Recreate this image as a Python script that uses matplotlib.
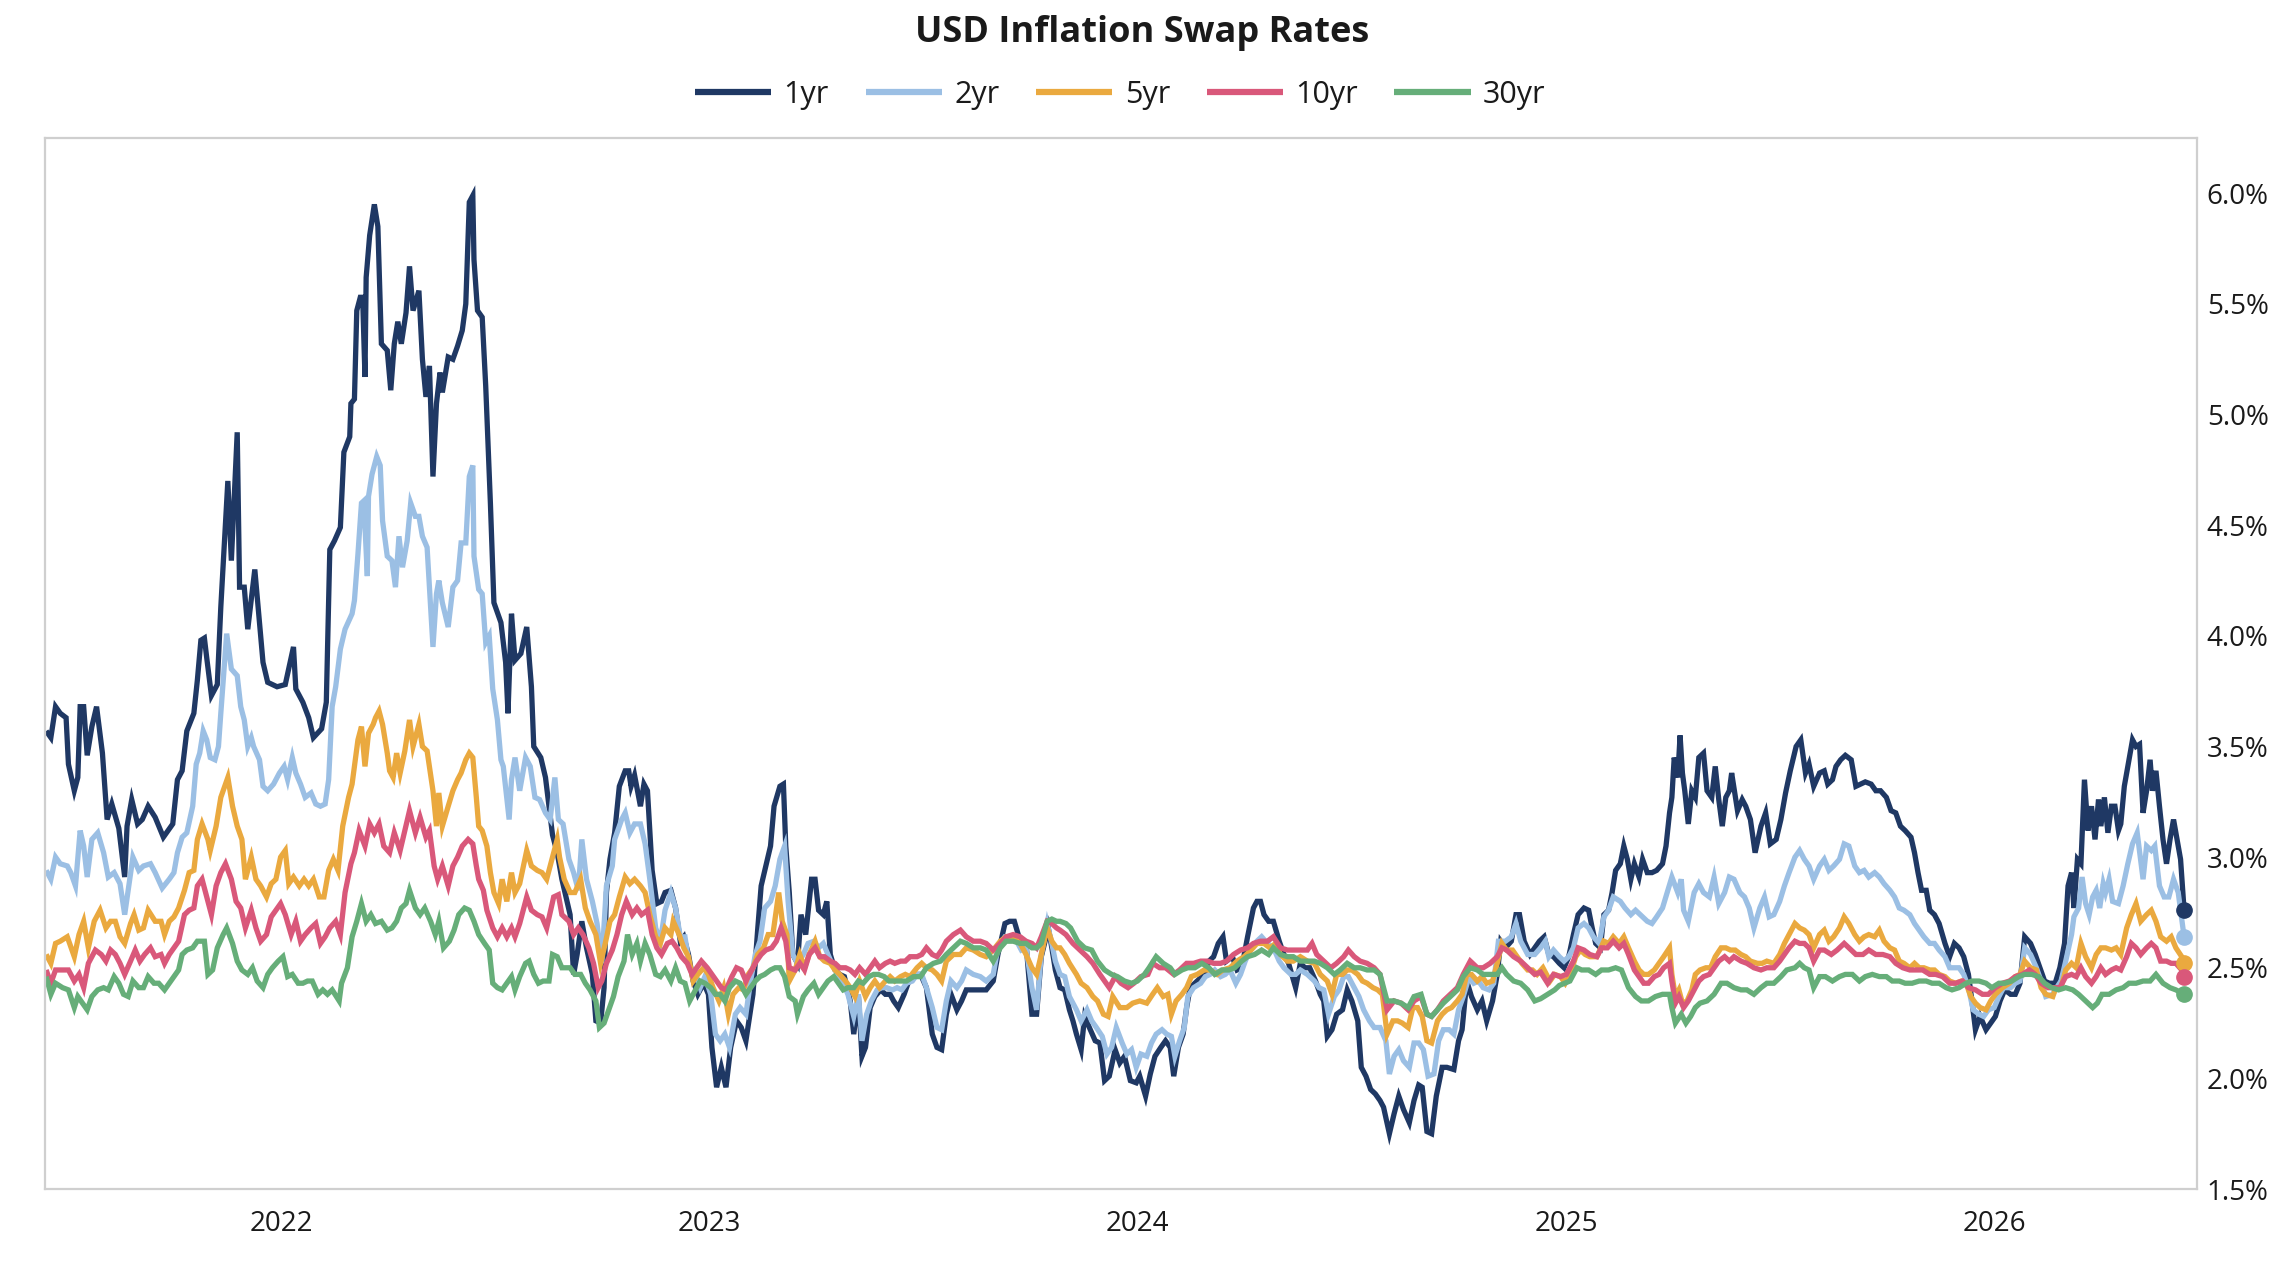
import matplotlib
matplotlib.use("Agg")
import matplotlib.pyplot as plt
import matplotlib.dates as mdates
from matplotlib.ticker import FuncFormatter
import pandas as pd

# ==============================
# DATA (% rates)
# ==============================
swap_1yr = [
    ("2021-06-14", 3.57), ("2021-06-18", 3.54), ("2021-06-22", 3.68), ("2021-06-26", 3.65), ("2021-07-01", 3.63),
    ("2021-07-03", 3.42), ("2021-07-08", 3.30), ("2021-07-11", 3.36), ("2021-07-13", 3.68), ("2021-07-16", 3.68),
    ("2021-07-19", 3.46), ("2021-07-23", 3.59), ("2021-07-27", 3.68), ("2021-08-01", 3.47), ("2021-08-05", 3.17),
    ("2021-08-09", 3.24), ("2021-08-15", 3.13), ("2021-08-20", 2.91), ("2021-08-22", 3.14), ("2021-08-26", 3.26),
    ("2021-08-31", 3.15), ("2021-09-04", 3.17), ("2021-09-09", 3.23), ("2021-09-15", 3.18), ("2021-09-22", 3.09),
    ("2021-09-30", 3.15), ("2021-10-04", 3.35), ("2021-10-08", 3.39), ("2021-10-12", 3.57), ("2021-10-18", 3.65),
    ("2021-10-21", 3.80), ("2021-10-24", 3.98), ("2021-10-27", 3.99), ("2021-10-29", 3.90), ("2021-11-02", 3.73),
    ("2021-11-07", 3.78), ("2021-11-10", 4.13), ("2021-11-16", 4.70), ("2021-11-19", 4.34), ("2021-11-24", 4.92),
    ("2021-11-26", 4.22), ("2021-11-30", 4.22), ("2021-12-03", 4.03), ("2021-12-09", 4.30), ("2021-12-13", 4.06),
    ("2021-12-16", 3.88), ("2021-12-20", 3.79), ("2021-12-28", 3.77), ("2022-01-04", 3.78), ("2022-01-11", 3.95),
    ("2022-01-13", 3.76), ("2022-01-19", 3.70), ("2022-01-24", 3.63), ("2022-01-28", 3.54), ("2022-02-04", 3.58),
    ("2022-02-08", 3.70), ("2022-02-11", 4.39), ("2022-02-15", 4.43), ("2022-02-20", 4.49), ("2022-02-23", 4.83),
    ("2022-02-28", 4.90), ("2022-03-01", 5.05), ("2022-03-04", 5.07), ("2022-03-06", 5.47), ("2022-03-09", 5.53),
    ("2022-03-11", 5.53), ("2022-03-13", 5.17), ("2022-03-14", 5.62), ("2022-03-17", 5.81), ("2022-03-21", 5.95),
    ("2022-03-24", 5.85), ("2022-03-27", 5.32), ("2022-04-01", 5.29), ("2022-04-04", 5.11), ("2022-04-07", 5.32),
    ("2022-04-10", 5.42), ("2022-04-13", 5.32), ("2022-04-17", 5.46), ("2022-04-20", 5.67), ("2022-04-23", 5.47),
    ("2022-04-28", 5.56), ("2022-05-01", 5.25), ("2022-05-04", 5.08), ("2022-05-07", 5.22), ("2022-05-10", 4.72),
    ("2022-05-13", 5.05), ("2022-05-16", 5.19), ("2022-05-18", 5.10), ("2022-05-23", 5.26), ("2022-05-27", 5.25),
    ("2022-05-31", 5.31), ("2022-06-04", 5.38), ("2022-06-07", 5.50), ("2022-06-10", 5.96), ("2022-06-13", 5.99),
    ("2022-06-14", 5.70), ("2022-06-17", 5.47), ("2022-06-21", 5.44), ("2022-06-24", 5.13), ("2022-06-28", 4.60),
    ("2022-07-01", 4.15), ("2022-07-07", 4.06), ("2022-07-11", 3.88), ("2022-07-13", 3.65), ("2022-07-16", 4.10),
    ("2022-07-19", 3.89), ("2022-07-24", 3.92), ("2022-07-29", 4.04), ("2022-08-02", 3.77), ("2022-08-04", 3.50),
    ("2022-08-10", 3.45), ("2022-08-14", 3.36), ("2022-08-17", 3.23), ("2022-08-20", 3.10), ("2022-08-24", 3.02),
    ("2022-08-28", 2.90), ("2022-09-04", 2.74), ("2022-09-07", 2.47), ("2022-09-10", 2.56), ("2022-09-14", 2.71),
    ("2022-09-18", 2.59), ("2022-09-23", 2.47), ("2022-09-26", 2.26), ("2022-09-30", 2.25), ("2022-10-03", 2.41),
    ("2022-10-05", 2.84), ("2022-10-08", 2.99), ("2022-10-12", 3.11), ("2022-10-16", 3.32), ("2022-10-21", 3.39),
    ("2022-10-24", 3.39), ("2022-10-26", 3.32), ("2022-10-29", 3.37), ("2022-11-03", 3.23), ("2022-11-06", 3.33),
    ("2022-11-09", 3.30), ("2022-11-13", 2.94), ("2022-11-17", 2.79), ("2022-11-21", 2.80), ("2022-11-24", 2.84),
    ("2022-11-29", 2.85), ("2022-12-03", 2.77), ("2022-12-07", 2.62), ("2022-12-10", 2.64), ("2022-12-14", 2.56),
    ("2022-12-18", 2.44), ("2022-12-22", 2.38), ("2022-12-27", 2.43), ("2022-12-31", 2.38), ("2023-01-03", 2.14),
    ("2023-01-07", 1.96), ("2023-01-11", 2.05), ("2023-01-15", 1.96), ("2023-01-19", 2.14), ("2023-01-24", 2.26),
    ("2023-01-28", 2.23), ("2023-02-01", 2.17), ("2023-02-07", 2.38), ("2023-02-11", 2.67), ("2023-02-14", 2.87),
    ("2023-02-18", 2.96), ("2023-02-22", 3.05), ("2023-02-25", 3.23), ("2023-03-02", 3.32), ("2023-03-05", 3.33),
    ("2023-03-07", 3.05), ("2023-03-10", 2.84), ("2023-03-13", 2.56), ("2023-03-17", 2.52), ("2023-03-20", 2.74),
    ("2023-03-24", 2.65), ("2023-03-29", 2.90), ("2023-04-01", 2.90), ("2023-04-04", 2.76), ("2023-04-08", 2.74),
    ("2023-04-11", 2.80), ("2023-04-14", 2.56), ("2023-04-18", 2.49), ("2023-04-22", 2.47), ("2023-04-26", 2.46),
    ("2023-05-01", 2.35), ("2023-05-04", 2.20), ("2023-05-08", 2.37), ("2023-05-11", 2.10), ("2023-05-14", 2.14),
    ("2023-05-18", 2.32), ("2023-05-22", 2.37), ("2023-05-27", 2.40), ("2023-05-31", 2.38), ("2023-06-04", 2.38),
    ("2023-06-07", 2.35), ("2023-06-11", 2.32), ("2023-06-16", 2.38), ("2023-06-20", 2.44), ("2023-06-24", 2.47),
    ("2023-06-30", 2.47), ("2023-07-05", 2.41), ("2023-07-10", 2.20), ("2023-07-14", 2.14), ("2023-07-18", 2.13),
    ("2023-07-22", 2.29), ("2023-07-26", 2.38), ("2023-07-31", 2.31), ("2023-08-04", 2.35), ("2023-08-08", 2.40),
    ("2023-08-14", 2.40), ("2023-08-20", 2.40), ("2023-08-25", 2.40), ("2023-08-31", 2.44), ("2023-09-04", 2.56),
    ("2023-09-10", 2.70), ("2023-09-14", 2.71), ("2023-09-18", 2.71), ("2023-09-23", 2.62), ("2023-09-28", 2.61),
    ("2023-10-03", 2.29), ("2023-10-07", 2.29), ("2023-10-11", 2.55), ("2023-10-17", 2.68), ("2023-10-20", 2.59),
    ("2023-10-23", 2.49), ("2023-10-27", 2.41), ("2023-10-31", 2.40), ("2023-11-04", 2.31), ("2023-11-07", 2.26),
    ("2023-11-10", 2.20), ("2023-11-14", 2.13), ("2023-11-17", 2.28), ("2023-11-21", 2.23), ("2023-11-26", 2.17),
    ("2023-11-30", 2.16), ("2023-12-04", 1.99), ("2023-12-08", 2.01), ("2023-12-13", 2.13), ("2023-12-17", 2.07),
    ("2023-12-21", 2.10), ("2023-12-26", 1.99), ("2023-12-31", 1.98), ("2024-01-03", 2.01), ("2024-01-08", 1.92),
    ("2024-01-12", 2.02), ("2024-01-16", 2.10), ("2024-01-21", 2.14), ("2024-01-25", 2.17), ("2024-01-29", 2.14),
    ("2024-02-01", 2.01), ("2024-02-05", 2.14), ("2024-02-09", 2.20), ("2024-02-12", 2.32), ("2024-02-15", 2.41),
    ("2024-02-21", 2.44), ("2024-02-27", 2.47), ("2024-03-02", 2.53), ("2024-03-06", 2.55), ("2024-03-10", 2.61),
    ("2024-03-14", 2.64), ("2024-03-17", 2.53), ("2024-03-22", 2.55), ("2024-03-26", 2.49), ("2024-03-30", 2.50),
    ("2024-04-04", 2.64), ("2024-04-09", 2.77), ("2024-04-12", 2.80), ("2024-04-15", 2.80), ("2024-04-18", 2.74),
    ("2024-04-22", 2.71), ("2024-04-26", 2.71), ("2024-05-01", 2.62), ("2024-05-05", 2.56), ("2024-05-09", 2.52),
    ("2024-05-15", 2.41), ("2024-05-19", 2.52), ("2024-05-23", 2.50), ("2024-05-27", 2.50), ("2024-06-01", 2.44),
    ("2024-06-05", 2.38), ("2024-06-08", 2.35), ("2024-06-11", 2.19), ("2024-06-15", 2.22), ("2024-06-19", 2.29),
    ("2024-06-24", 2.31), ("2024-06-28", 2.40), ("2024-07-02", 2.35), ("2024-07-07", 2.26), ("2024-07-10", 2.05),
    ("2024-07-14", 2.01), ("2024-07-18", 1.95), ("2024-07-22", 1.93), ("2024-07-26", 1.90), ("2024-07-29", 1.87),
    ("2024-08-03", 1.75), ("2024-08-07", 1.84), ("2024-08-11", 1.92), ("2024-08-15", 1.86), ("2024-08-20", 1.80),
    ("2024-08-24", 1.90), ("2024-08-28", 1.97), ("2024-08-31", 1.96), ("2024-09-04", 1.76), ("2024-09-08", 1.75),
    ("2024-09-12", 1.92), ("2024-09-17", 2.05), ("2024-09-21", 2.05), ("2024-09-27", 2.04), ("2024-10-01", 2.17),
    ("2024-10-04", 2.22), ("2024-10-08", 2.44), ("2024-10-12", 2.37), ("2024-10-17", 2.31), ("2024-10-21", 2.35),
    ("2024-10-25", 2.26), ("2024-10-30", 2.35), ("2024-11-03", 2.47), ("2024-11-06", 2.62), ("2024-11-10", 2.59),
    ("2024-11-15", 2.62), ("2024-11-19", 2.74), ("2024-11-22", 2.74), ("2024-11-26", 2.62), ("2024-12-01", 2.56),
    ("2024-12-05", 2.59), ("2024-12-09", 2.62), ("2024-12-13", 2.64), ("2024-12-17", 2.56), ("2024-12-21", 2.55),
    ("2024-12-26", 2.52), ("2024-12-30", 2.50), ("2025-01-03", 2.55), ("2025-01-07", 2.65), ("2025-01-11", 2.74),
    ("2025-01-16", 2.77), ("2025-01-20", 2.76), ("2025-01-23", 2.68), ("2025-01-26", 2.61), ("2025-01-30", 2.59),
    ("2025-02-02", 2.74), ("2025-02-06", 2.76), ("2025-02-09", 2.84), ("2025-02-12", 2.94), ("2025-02-16", 2.97),
    ("2025-02-19", 3.05), ("2025-02-22", 2.99), ("2025-02-25", 2.90), ("2025-02-28", 2.97), ("2025-03-04", 2.91),
    ("2025-03-07", 2.99), ("2025-03-11", 2.93), ("2025-03-15", 2.93), ("2025-03-19", 2.94), ("2025-03-24", 2.97),
    ("2025-03-27", 3.05), ("2025-03-30", 3.20), ("2025-04-01", 3.27), ("2025-04-03", 3.45), ("2025-04-06", 3.36),
    ("2025-04-08", 3.55), ("2025-04-10", 3.38), ("2025-04-12", 3.30), ("2025-04-15", 3.15), ("2025-04-18", 3.30),
    ("2025-04-21", 3.27), ("2025-04-24", 3.45), ("2025-04-28", 3.47), ("2025-05-01", 3.30), ("2025-05-05", 3.27),
    ("2025-05-08", 3.41), ("2025-05-11", 3.26), ("2025-05-14", 3.14), ("2025-05-17", 3.27), ("2025-05-20", 3.30),
    ("2025-05-22", 3.38), ("2025-05-27", 3.21), ("2025-05-31", 3.26), ("2025-06-03", 3.23), ("2025-06-07", 3.17),
    ("2025-06-11", 3.02), ("2025-06-16", 3.14), ("2025-06-20", 3.20), ("2025-06-24", 3.06), ("2025-06-29", 3.08),
    ("2025-07-03", 3.17), ("2025-07-07", 3.29), ("2025-07-11", 3.39), ("2025-07-16", 3.50), ("2025-07-20", 3.53),
    ("2025-07-24", 3.38), ("2025-07-27", 3.42), ("2025-07-31", 3.32), ("2025-08-05", 3.38), ("2025-08-09", 3.39),
    ("2025-08-12", 3.33), ("2025-08-16", 3.35), ("2025-08-19", 3.41), ("2025-08-23", 3.44), ("2025-08-27", 3.46),
    ("2025-09-01", 3.44), ("2025-09-05", 3.32), ("2025-09-09", 3.33), ("2025-09-13", 3.34), ("2025-09-18", 3.33),
    ("2025-09-22", 3.30), ("2025-09-26", 3.30), ("2025-10-01", 3.27), ("2025-10-05", 3.21), ("2025-10-09", 3.20),
    ("2025-10-13", 3.14), ("2025-10-17", 3.12), ("2025-10-22", 3.09), ("2025-10-25", 3.02), ("2025-10-28", 2.93),
    ("2025-10-31", 2.85), ("2025-11-04", 2.85), ("2025-11-07", 2.76), ("2025-11-11", 2.74), ("2025-11-15", 2.70),
    ("2025-11-20", 2.61), ("2025-11-24", 2.55), ("2025-11-28", 2.61), ("2025-12-02", 2.59), ("2025-12-06", 2.55),
    ("2025-12-10", 2.47), ("2025-12-13", 2.35), ("2025-12-16", 2.22), ("2025-12-20", 2.28), ("2025-12-25", 2.22),
    ("2025-12-29", 2.25), ("2026-01-02", 2.28), ("2026-01-06", 2.35), ("2026-01-10", 2.40), ("2026-01-15", 2.38),
    ("2026-01-19", 2.38), ("2026-01-23", 2.43), ("2026-01-27", 2.64), ("2026-02-01", 2.61), ("2026-02-05", 2.56),
    ("2026-02-09", 2.50), ("2026-02-13", 2.44), ("2026-02-17", 2.43), ("2026-02-22", 2.43), ("2026-02-26", 2.50),
    ("2026-03-02", 2.61), ("2026-03-05", 2.87), ("2026-03-08", 2.93), ("2026-03-10", 2.77), ("2026-03-13", 2.99),
    ("2026-03-16", 2.97), ("2026-03-19", 3.35), ("2026-03-22", 3.12), ("2026-03-25", 3.23), ("2026-03-28", 3.08),
    ("2026-03-31", 3.26), ("2026-04-02", 3.14), ("2026-04-05", 3.27), ("2026-04-08", 3.11), ("2026-04-11", 3.23),
    ("2026-04-14", 3.23), ("2026-04-17", 3.12), ("2026-04-19", 3.15), ("2026-04-22", 3.32), ("2026-04-27", 3.47),
    ("2026-04-29", 3.53), ("2026-05-02", 3.50), ("2026-05-05", 3.51), ("2026-05-08", 3.20), ("2026-05-11", 3.30),
    ("2026-05-14", 3.44), ("2026-05-16", 3.30), ("2026-05-19", 3.39), ("2026-05-22", 3.23), ("2026-05-25", 3.08),
    ("2026-05-28", 2.97), ("2026-05-31", 3.08), ("2026-06-03", 3.17), ("2026-06-06", 3.08), ("2026-06-09", 2.99),
    ("2026-06-12", 2.76),
]

swap_2yr = [
    ("2021-06-14", 2.94), ("2021-06-18", 2.90), ("2021-06-22", 3.00), ("2021-06-26", 2.97), ("2021-07-02", 2.96),
    ("2021-07-05", 2.93), ("2021-07-09", 2.87), ("2021-07-13", 3.12), ("2021-07-16", 3.05), ("2021-07-19", 2.91),
    ("2021-07-23", 3.08), ("2021-07-28", 3.11), ("2021-08-02", 3.02), ("2021-08-06", 2.91), ("2021-08-11", 2.93),
    ("2021-08-16", 2.88), ("2021-08-20", 2.74), ("2021-08-23", 2.85), ("2021-08-27", 3.00), ("2021-09-01", 2.94),
    ("2021-09-05", 2.96), ("2021-09-11", 2.97), ("2021-09-15", 2.93), ("2021-09-21", 2.86), ("2021-09-27", 2.90),
    ("2021-10-01", 2.93), ("2021-10-04", 3.02), ("2021-10-08", 3.09), ("2021-10-12", 3.11), ("2021-10-17", 3.23),
    ("2021-10-20", 3.42), ("2021-10-23", 3.47), ("2021-10-26", 3.57), ("2021-10-29", 3.53), ("2021-11-01", 3.45),
    ("2021-11-05", 3.44), ("2021-11-08", 3.50), ("2021-11-10", 3.65), ("2021-11-15", 4.01), ("2021-11-19", 3.85),
    ("2021-11-24", 3.82), ("2021-11-27", 3.68), ("2021-11-30", 3.62), ("2021-12-03", 3.50), ("2021-12-06", 3.54),
    ("2021-12-08", 3.50), ("2021-12-13", 3.44), ("2021-12-16", 3.32), ("2021-12-20", 3.30), ("2021-12-25", 3.33),
    ("2021-12-30", 3.38), ("2022-01-03", 3.41), ("2022-01-06", 3.35), ("2022-01-10", 3.45), ("2022-01-13", 3.38),
    ("2022-01-17", 3.33), ("2022-01-21", 3.27), ("2022-01-26", 3.29), ("2022-01-30", 3.24), ("2022-02-03", 3.23),
    ("2022-02-07", 3.24), ("2022-02-10", 3.35), ("2022-02-13", 3.68), ("2022-02-16", 3.77), ("2022-02-20", 3.94),
    ("2022-02-24", 4.03), ("2022-03-02", 4.10), ("2022-03-04", 4.16), ("2022-03-07", 4.37), ("2022-03-10", 4.60),
    ("2022-03-12", 4.61), ("2022-03-15", 4.27), ("2022-03-16", 4.63), ("2022-03-19", 4.73), ("2022-03-23", 4.81),
    ("2022-03-26", 4.77), ("2022-03-28", 4.52), ("2022-04-01", 4.36), ("2022-04-05", 4.34), ("2022-04-08", 4.22),
    ("2022-04-11", 4.45), ("2022-04-14", 4.31), ("2022-04-18", 4.43), ("2022-04-21", 4.60), ("2022-04-25", 4.54),
    ("2022-04-28", 4.54), ("2022-05-01", 4.45), ("2022-05-05", 4.40), ("2022-05-10", 3.95), ("2022-05-13", 4.19),
    ("2022-05-15", 4.25), ("2022-05-18", 4.15), ("2022-05-23", 4.04), ("2022-05-27", 4.22), ("2022-05-31", 4.25),
    ("2022-06-03", 4.42), ("2022-06-07", 4.42), ("2022-06-10", 4.72), ("2022-06-13", 4.77), ("2022-06-14", 4.36),
    ("2022-06-18", 4.21), ("2022-06-21", 4.19), ("2022-06-24", 3.97), ("2022-06-27", 4.00), ("2022-06-30", 3.76),
    ("2022-07-04", 3.62), ("2022-07-07", 3.44), ("2022-07-09", 3.41), ("2022-07-14", 3.17), ("2022-07-16", 3.35),
    ("2022-07-19", 3.45), ("2022-07-23", 3.30), ("2022-07-28", 3.45), ("2022-08-01", 3.41), ("2022-08-05", 3.27),
    ("2022-08-09", 3.26), ("2022-08-14", 3.20), ("2022-08-18", 3.17), ("2022-08-22", 3.36), ("2022-08-25", 3.17),
    ("2022-08-29", 3.15), ("2022-09-03", 2.99), ("2022-09-07", 2.93), ("2022-09-11", 2.85), ("2022-09-14", 3.08),
    ("2022-09-18", 2.90), ("2022-09-23", 2.80), ("2022-09-27", 2.70), ("2022-10-01", 2.52), ("2022-10-05", 2.87),
    ("2022-10-10", 2.96), ("2022-10-12", 3.08), ("2022-10-18", 3.17), ("2022-10-21", 3.20), ("2022-10-25", 3.11),
    ("2022-10-29", 3.15), ("2022-11-03", 3.15), ("2022-11-07", 3.06), ("2022-11-11", 2.90), ("2022-11-16", 2.68),
    ("2022-11-20", 2.62), ("2022-11-24", 2.76), ("2022-11-29", 2.84), ("2022-12-03", 2.77), ("2022-12-07", 2.64),
    ("2022-12-11", 2.64), ("2022-12-15", 2.50), ("2022-12-20", 2.47), ("2022-12-24", 2.41), ("2022-12-28", 2.46),
    ("2023-01-02", 2.38), ("2023-01-06", 2.20), ("2023-01-10", 2.17), ("2023-01-14", 2.20), ("2023-01-18", 2.14),
    ("2023-01-23", 2.29), ("2023-01-27", 2.32), ("2023-02-01", 2.29), ("2023-02-05", 2.44), ("2023-02-09", 2.56),
    ("2023-02-13", 2.62), ("2023-02-17", 2.77), ("2023-02-22", 2.80), ("2023-02-26", 2.87), ("2023-03-02", 2.99),
    ("2023-03-06", 3.05), ("2023-03-09", 2.80), ("2023-03-13", 2.56), ("2023-03-17", 2.52), ("2023-03-22", 2.56),
    ("2023-03-26", 2.61), ("2023-03-31", 2.62), ("2023-04-04", 2.59), ("2023-04-08", 2.61), ("2023-04-12", 2.56),
    ("2023-04-17", 2.50), ("2023-04-21", 2.47), ("2023-04-25", 2.43), ("2023-04-29", 2.38), ("2023-05-04", 2.28),
    ("2023-05-08", 2.38), ("2023-05-11", 2.17), ("2023-05-15", 2.29), ("2023-05-19", 2.35), ("2023-05-24", 2.40),
    ("2023-05-28", 2.41), ("2023-06-01", 2.41), ("2023-06-06", 2.40), ("2023-06-10", 2.41), ("2023-06-14", 2.40),
    ("2023-06-18", 2.43), ("2023-06-23", 2.44), ("2023-06-27", 2.47), ("2023-07-01", 2.47), ("2023-07-05", 2.41),
    ("2023-07-10", 2.32), ("2023-07-14", 2.23), ("2023-07-18", 2.22), ("2023-07-22", 2.35), ("2023-07-26", 2.44),
    ("2023-07-31", 2.41), ("2023-08-04", 2.44), ("2023-08-08", 2.49), ("2023-08-14", 2.47), ("2023-08-20", 2.46),
    ("2023-08-25", 2.44), ("2023-08-31", 2.47), ("2023-09-04", 2.59), ("2023-09-10", 2.64), ("2023-09-16", 2.64),
    ("2023-09-20", 2.62), ("2023-09-24", 2.58), ("2023-09-28", 2.59), ("2023-10-03", 2.41), ("2023-10-07", 2.31),
    ("2023-10-11", 2.56), ("2023-10-16", 2.70), ("2023-10-20", 2.61), ("2023-10-23", 2.53), ("2023-10-27", 2.47),
    ("2023-10-31", 2.46), ("2023-11-04", 2.37), ("2023-11-10", 2.31), ("2023-11-14", 2.26), ("2023-11-19", 2.31),
    ("2023-11-23", 2.26), ("2023-11-27", 2.23), ("2023-12-02", 2.19), ("2023-12-06", 2.11), ("2023-12-10", 2.14),
    ("2023-12-14", 2.23), ("2023-12-19", 2.16), ("2023-12-23", 2.11), ("2023-12-27", 2.13), ("2023-12-31", 2.05),
    ("2024-01-04", 2.11), ("2024-01-09", 2.10), ("2024-01-13", 2.16), ("2024-01-17", 2.20), ("2024-01-22", 2.22),
    ("2024-01-26", 2.20), ("2024-01-30", 2.19), ("2024-02-02", 2.10), ("2024-02-06", 2.17), ("2024-02-10", 2.23),
    ("2024-02-13", 2.37), ("2024-02-18", 2.41), ("2024-02-24", 2.43), ("2024-02-28", 2.46), ("2024-03-03", 2.47),
    ("2024-03-07", 2.49), ("2024-03-12", 2.46), ("2024-03-16", 2.47), ("2024-03-20", 2.49), ("2024-03-25", 2.43),
    ("2024-03-29", 2.47), ("2024-04-02", 2.53), ("2024-04-07", 2.59), ("2024-04-12", 2.62), ("2024-04-16", 2.64),
    ("2024-04-21", 2.61), ("2024-04-26", 2.59), ("2024-05-01", 2.53), ("2024-05-05", 2.50), ("2024-05-11", 2.47),
    ("2024-05-15", 2.47), ("2024-05-19", 2.49), ("2024-05-25", 2.47), ("2024-05-31", 2.44), ("2024-06-04", 2.41),
    ("2024-06-08", 2.40), ("2024-06-12", 2.29), ("2024-06-17", 2.37), ("2024-06-21", 2.40), ("2024-06-25", 2.46),
    ("2024-06-29", 2.46), ("2024-07-04", 2.41), ("2024-07-08", 2.37), ("2024-07-12", 2.31), ("2024-07-17", 2.26),
    ("2024-07-21", 2.23), ("2024-07-26", 2.23), ("2024-07-31", 2.17), ("2024-08-03", 2.02), ("2024-08-07", 2.10),
    ("2024-08-11", 2.13), ("2024-08-15", 2.08), ("2024-08-20", 2.05), ("2024-08-24", 2.16), ("2024-08-28", 2.16),
    ("2024-09-01", 2.13), ("2024-09-05", 2.01), ("2024-09-10", 2.02), ("2024-09-14", 2.17), ("2024-09-18", 2.22),
    ("2024-09-23", 2.22), ("2024-09-27", 2.20), ("2024-10-01", 2.31), ("2024-10-05", 2.37), ("2024-10-10", 2.46),
    ("2024-10-14", 2.43), ("2024-10-18", 2.44), ("2024-10-22", 2.41), ("2024-10-27", 2.40), ("2024-10-31", 2.43),
    ("2024-11-04", 2.62), ("2024-11-10", 2.62), ("2024-11-15", 2.64), ("2024-11-19", 2.70), ("2024-11-23", 2.62),
    ("2024-11-29", 2.56), ("2024-12-05", 2.56), ("2024-12-10", 2.59), ("2024-12-14", 2.62), ("2024-12-17", 2.55),
    ("2024-12-21", 2.58), ("2024-12-26", 2.55), ("2024-12-30", 2.53), ("2025-01-03", 2.55), ("2025-01-07", 2.59),
    ("2025-01-11", 2.68), ("2025-01-16", 2.70), ("2025-01-20", 2.68), ("2025-01-24", 2.64), ("2025-01-29", 2.61),
    ("2025-02-02", 2.73), ("2025-02-06", 2.76), ("2025-02-10", 2.82), ("2025-02-16", 2.80), ("2025-02-20", 2.77),
    ("2025-02-25", 2.74), ("2025-03-01", 2.76), ("2025-03-05", 2.74), ("2025-03-11", 2.71), ("2025-03-15", 2.70),
    ("2025-03-19", 2.73), ("2025-03-24", 2.77), ("2025-03-28", 2.84), ("2025-04-01", 2.91), ("2025-04-06", 2.84),
    ("2025-04-09", 2.90), ("2025-04-11", 2.76), ("2025-04-15", 2.71), ("2025-04-20", 2.84), ("2025-04-24", 2.88),
    ("2025-04-28", 2.84), ("2025-05-03", 2.82), ("2025-05-07", 2.91), ("2025-05-11", 2.79), ("2025-05-16", 2.84),
    ("2025-05-20", 2.91), ("2025-05-24", 2.90), ("2025-05-29", 2.84), ("2025-06-02", 2.82), ("2025-06-06", 2.77),
    ("2025-06-10", 2.68), ("2025-06-15", 2.77), ("2025-06-19", 2.82), ("2025-06-23", 2.73), ("2025-06-27", 2.74),
    ("2025-07-02", 2.80), ("2025-07-06", 2.87), ("2025-07-10", 2.93), ("2025-07-15", 3.00), ("2025-07-19", 3.03),
    ("2025-07-23", 2.99), ("2025-07-27", 2.96), ("2025-07-31", 2.90), ("2025-08-05", 2.96), ("2025-08-09", 2.99),
    ("2025-08-13", 2.94), ("2025-08-17", 2.96), ("2025-08-22", 2.99), ("2025-08-26", 3.06), ("2025-08-30", 3.05),
    ("2025-09-04", 2.96), ("2025-09-08", 2.93), ("2025-09-12", 2.94), ("2025-09-16", 2.91), ("2025-09-21", 2.93),
    ("2025-09-25", 2.91), ("2025-09-29", 2.88), ("2025-10-04", 2.85), ("2025-10-08", 2.82), ("2025-10-12", 2.77),
    ("2025-10-16", 2.76), ("2025-10-21", 2.74), ("2025-10-25", 2.70), ("2025-10-29", 2.67), ("2025-11-02", 2.64),
    ("2025-11-07", 2.61), ("2025-11-11", 2.61), ("2025-11-15", 2.58), ("2025-11-20", 2.55), ("2025-11-24", 2.50),
    ("2025-11-28", 2.50), ("2025-12-02", 2.50), ("2025-12-06", 2.47), ("2025-12-10", 2.41), ("2025-12-14", 2.31),
    ("2025-12-19", 2.29), ("2025-12-23", 2.28), ("2025-12-27", 2.31), ("2026-01-01", 2.32), ("2026-01-05", 2.37),
    ("2026-01-09", 2.41), ("2026-01-15", 2.41), ("2026-01-19", 2.43), ("2026-01-23", 2.44), ("2026-01-27", 2.59),
    ("2026-02-01", 2.56), ("2026-02-06", 2.50), ("2026-02-10", 2.44), ("2026-02-14", 2.37), ("2026-02-20", 2.38),
    ("2026-02-22", 2.40), ("2026-02-27", 2.44), ("2026-03-03", 2.53), ("2026-03-08", 2.65), ("2026-03-10", 2.73),
    ("2026-03-14", 2.77), ("2026-03-17", 2.91), ("2026-03-20", 2.79), ("2026-03-23", 2.74), ("2026-03-26", 2.82),
    ("2026-03-29", 2.85), ("2026-04-01", 2.77), ("2026-04-04", 2.88), ("2026-04-06", 2.84), ("2026-04-09", 2.90),
    ("2026-04-12", 2.80), ("2026-04-17", 2.79), ("2026-04-21", 2.87), ("2026-04-25", 2.97), ("2026-04-29", 3.06),
    ("2026-05-03", 3.11), ("2026-05-08", 2.90), ("2026-05-11", 3.05), ("2026-05-15", 3.03), ("2026-05-18", 3.05),
    ("2026-05-22", 2.87), ("2026-05-26", 2.82), ("2026-05-30", 2.82), ("2026-06-03", 2.90), ("2026-06-07", 2.84),
    ("2026-06-12", 2.64),
]

swap_5yr = [
    ("2021-06-14", 2.56), ("2021-06-18", 2.52), ("2021-06-22", 2.61), ("2021-06-26", 2.62), ("2021-07-02", 2.64),
    ("2021-07-08", 2.55), ("2021-07-12", 2.65), ("2021-07-16", 2.71), ("2021-07-20", 2.59), ("2021-07-25", 2.71),
    ("2021-07-30", 2.76), ("2021-08-04", 2.68), ("2021-08-08", 2.71), ("2021-08-12", 2.71), ("2021-08-16", 2.64),
    ("2021-08-20", 2.61), ("2021-08-25", 2.70), ("2021-08-28", 2.74), ("2021-09-01", 2.67), ("2021-09-05", 2.68),
    ("2021-09-09", 2.76), ("2021-09-15", 2.71), ("2021-09-20", 2.71), ("2021-09-23", 2.65), ("2021-09-27", 2.71),
    ("2021-10-01", 2.73), ("2021-10-05", 2.77), ("2021-10-10", 2.85), ("2021-10-14", 2.93), ("2021-10-18", 2.94),
    ("2021-10-21", 3.08), ("2021-10-25", 3.15), ("2021-10-30", 3.08), ("2021-11-01", 3.03), ("2021-11-06", 3.14),
    ("2021-11-10", 3.27), ("2021-11-14", 3.33), ("2021-11-16", 3.36), ("2021-11-20", 3.23), ("2021-11-24", 3.14),
    ("2021-11-28", 3.08), ("2021-12-01", 2.90), ("2021-12-06", 3.00), ("2021-12-10", 2.90), ("2021-12-14", 2.87),
    ("2021-12-19", 2.82), ("2021-12-23", 2.88), ("2021-12-27", 2.90), ("2021-12-31", 3.00), ("2022-01-04", 3.03),
    ("2022-01-07", 2.88), ("2022-01-11", 2.91), ("2022-01-16", 2.87), ("2022-01-20", 2.90), ("2022-01-24", 2.87),
    ("2022-01-28", 2.90), ("2022-02-02", 2.82), ("2022-02-06", 2.82), ("2022-02-10", 2.94), ("2022-02-14", 2.99),
    ("2022-02-18", 2.94), ("2022-02-22", 3.14), ("2022-02-27", 3.27), ("2022-03-02", 3.33), ("2022-03-04", 3.41),
    ("2022-03-07", 3.53), ("2022-03-10", 3.59), ("2022-03-13", 3.41), ("2022-03-16", 3.56), ("2022-03-20", 3.60),
    ("2022-03-22", 3.63), ("2022-03-25", 3.66), ("2022-03-28", 3.60), ("2022-04-01", 3.47), ("2022-04-03", 3.39),
    ("2022-04-06", 3.36), ("2022-04-09", 3.47), ("2022-04-12", 3.38), ("2022-04-16", 3.48), ("2022-04-20", 3.62),
    ("2022-04-23", 3.50), ("2022-04-28", 3.60), ("2022-05-01", 3.50), ("2022-05-05", 3.48), ("2022-05-10", 3.30),
    ("2022-05-13", 3.14), ("2022-05-15", 3.29), ("2022-05-18", 3.14), ("2022-05-23", 3.23), ("2022-05-27", 3.30),
    ("2022-05-31", 3.35), ("2022-06-03", 3.38), ("2022-06-07", 3.44), ("2022-06-10", 3.47), ("2022-06-13", 3.45),
    ("2022-06-16", 3.27), ("2022-06-18", 3.14), ("2022-06-21", 3.12), ("2022-06-25", 3.05), ("2022-06-28", 2.93),
    ("2022-07-01", 2.84), ("2022-07-05", 2.79), ("2022-07-08", 2.90), ("2022-07-12", 2.80), ("2022-07-16", 2.93),
    ("2022-07-19", 2.84), ("2022-07-23", 2.88), ("2022-07-29", 3.03), ("2022-08-02", 2.96), ("2022-08-07", 2.94),
    ("2022-08-11", 2.93), ("2022-08-15", 2.90), ("2022-08-21", 3.02), ("2022-08-24", 3.08), ("2022-08-26", 3.00),
    ("2022-08-30", 2.90), ("2022-09-04", 2.84), ("2022-09-08", 2.84), ("2022-09-13", 2.90), ("2022-09-17", 2.77),
    ("2022-09-21", 2.71), ("2022-09-26", 2.65), ("2022-09-30", 2.52), ("2022-10-04", 2.61), ("2022-10-08", 2.71),
    ("2022-10-12", 2.74), ("2022-10-16", 2.82), ("2022-10-21", 2.91), ("2022-10-25", 2.88), ("2022-10-29", 2.90),
    ("2022-11-03", 2.87), ("2022-11-07", 2.84), ("2022-11-11", 2.74), ("2022-11-16", 2.64), ("2022-11-20", 2.61),
    ("2022-11-24", 2.68), ("2022-11-29", 2.65), ("2022-12-01", 2.71), ("2022-12-06", 2.65), ("2022-12-10", 2.59),
    ("2022-12-14", 2.55), ("2022-12-18", 2.44), ("2022-12-22", 2.47), ("2022-12-27", 2.50), ("2022-12-31", 2.47),
    ("2023-01-04", 2.41), ("2023-01-09", 2.35), ("2023-01-13", 2.41), ("2023-01-17", 2.29), ("2023-01-21", 2.38),
    ("2023-01-26", 2.41), ("2023-01-30", 2.40), ("2023-02-03", 2.47), ("2023-02-07", 2.50), ("2023-02-11", 2.56),
    ("2023-02-16", 2.59), ("2023-02-20", 2.65), ("2023-02-24", 2.65), ("2023-03-01", 2.84), ("2023-03-04", 2.71),
    ("2023-03-08", 2.65), ("2023-03-10", 2.44), ("2023-03-15", 2.49), ("2023-03-19", 2.56), ("2023-03-23", 2.50),
    ("2023-03-27", 2.56), ("2023-04-01", 2.62), ("2023-04-05", 2.55), ("2023-04-09", 2.53), ("2023-04-14", 2.52),
    ("2023-04-18", 2.49), ("2023-04-22", 2.47), ("2023-04-27", 2.44), ("2023-05-01", 2.41), ("2023-05-05", 2.37),
    ("2023-05-09", 2.44), ("2023-05-14", 2.37), ("2023-05-18", 2.41), ("2023-05-22", 2.44), ("2023-05-26", 2.41),
    ("2023-05-31", 2.44), ("2023-06-04", 2.46), ("2023-06-08", 2.44), ("2023-06-13", 2.46), ("2023-06-17", 2.47),
    ("2023-06-21", 2.46), ("2023-06-27", 2.50), ("2023-07-01", 2.52), ("2023-07-05", 2.50), ("2023-07-10", 2.49),
    ("2023-07-14", 2.47), ("2023-07-18", 2.44), ("2023-07-22", 2.53), ("2023-07-28", 2.56), ("2023-08-03", 2.56),
    ("2023-08-08", 2.59), ("2023-08-14", 2.58), ("2023-08-20", 2.56), ("2023-08-25", 2.55), ("2023-08-31", 2.58),
    ("2023-09-06", 2.62), ("2023-09-11", 2.64), ("2023-09-17", 2.64), ("2023-09-23", 2.61), ("2023-09-28", 2.56),
    ("2023-10-03", 2.50), ("2023-10-07", 2.47), ("2023-10-11", 2.56), ("2023-10-16", 2.68), ("2023-10-20", 2.62),
    ("2023-10-24", 2.59), ("2023-10-27", 2.59), ("2023-10-31", 2.56), ("2023-11-04", 2.52), ("2023-11-10", 2.47),
    ("2023-11-14", 2.43), ("2023-11-19", 2.41), ("2023-11-24", 2.37), ("2023-11-28", 2.35), ("2023-12-03", 2.29),
    ("2023-12-07", 2.28), ("2023-12-11", 2.37), ("2023-12-17", 2.32), ("2023-12-23", 2.32), ("2023-12-28", 2.34),
    ("2024-01-03", 2.35), ("2024-01-09", 2.34), ("2024-01-14", 2.38), ("2024-01-18", 2.41), ("2024-01-23", 2.37),
    ("2024-01-27", 2.38), ("2024-01-30", 2.29), ("2024-02-03", 2.35), ("2024-02-08", 2.38), ("2024-02-12", 2.41),
    ("2024-02-16", 2.46), ("2024-02-21", 2.47), ("2024-02-27", 2.49), ("2024-03-03", 2.49), ("2024-03-09", 2.47),
    ("2024-03-14", 2.49), ("2024-03-20", 2.50), ("2024-03-26", 2.53), ("2024-04-01", 2.55), ("2024-04-07", 2.58),
    ("2024-04-12", 2.61), ("2024-04-18", 2.61), ("2024-04-23", 2.59), ("2024-04-28", 2.61), ("2024-05-02", 2.56),
    ("2024-05-08", 2.53), ("2024-05-13", 2.53), ("2024-05-19", 2.55), ("2024-05-25", 2.53), ("2024-05-31", 2.52),
    ("2024-06-05", 2.47), ("2024-06-11", 2.44), ("2024-06-15", 2.38), ("2024-06-19", 2.47), ("2024-06-24", 2.47),
    ("2024-06-28", 2.49), ("2024-07-02", 2.49), ("2024-07-07", 2.47), ("2024-07-11", 2.44), ("2024-07-15", 2.43),
    ("2024-07-20", 2.41), ("2024-07-24", 2.40), ("2024-07-28", 2.38), ("2024-08-01", 2.20), ("2024-08-06", 2.26),
    ("2024-08-10", 2.26), ("2024-08-14", 2.25), ("2024-08-19", 2.23), ("2024-08-23", 2.32), ("2024-08-27", 2.32),
    ("2024-08-31", 2.28), ("2024-09-04", 2.17), ("2024-09-08", 2.16), ("2024-09-13", 2.26), ("2024-09-17", 2.29),
    ("2024-09-21", 2.31), ("2024-09-25", 2.32), ("2024-09-30", 2.35), ("2024-10-04", 2.38), ("2024-10-08", 2.47),
    ("2024-10-12", 2.47), ("2024-10-17", 2.44), ("2024-10-21", 2.46), ("2024-10-25", 2.43), ("2024-10-30", 2.44),
    ("2024-11-03", 2.52), ("2024-11-07", 2.61), ("2024-11-11", 2.58), ("2024-11-16", 2.58), ("2024-11-20", 2.55),
    ("2024-11-24", 2.52), ("2024-11-29", 2.49), ("2024-12-03", 2.49), ("2024-12-07", 2.47), ("2024-12-12", 2.50),
    ("2024-12-18", 2.44), ("2024-12-22", 2.47), ("2024-12-27", 2.46), ("2024-12-31", 2.43), ("2025-01-04", 2.47),
    ("2025-01-09", 2.55), ("2025-01-13", 2.58), ("2025-01-17", 2.56), ("2025-01-21", 2.55), ("2025-01-27", 2.55),
    ("2025-02-02", 2.62), ("2025-02-06", 2.61), ("2025-02-10", 2.64), ("2025-02-15", 2.61), ("2025-02-19", 2.64),
    ("2025-02-23", 2.59), ("2025-02-28", 2.53), ("2025-03-04", 2.49), ("2025-03-08", 2.47), ("2025-03-12", 2.47),
    ("2025-03-17", 2.49), ("2025-03-21", 2.52), ("2025-03-25", 2.55), ("2025-03-30", 2.59), ("2025-04-01", 2.47),
    ("2025-04-04", 2.37), ("2025-04-07", 2.40), ("2025-04-10", 2.34), ("2025-04-14", 2.35), ("2025-04-18", 2.40),
    ("2025-04-21", 2.47), ("2025-04-25", 2.49), ("2025-04-30", 2.50), ("2025-05-04", 2.50), ("2025-05-08", 2.55),
    ("2025-05-13", 2.59), ("2025-05-17", 2.59), ("2025-05-21", 2.58), ("2025-05-25", 2.58), ("2025-05-30", 2.56),
    ("2025-06-03", 2.55), ("2025-06-07", 2.53), ("2025-06-13", 2.52), ("2025-06-17", 2.52), ("2025-06-21", 2.53),
    ("2025-06-27", 2.52), ("2025-07-02", 2.56), ("2025-07-06", 2.61), ("2025-07-10", 2.65), ("2025-07-15", 2.70),
    ("2025-07-19", 2.68), ("2025-07-23", 2.67), ("2025-07-27", 2.65), ("2025-07-31", 2.59), ("2025-08-05", 2.65),
    ("2025-08-09", 2.67), ("2025-08-13", 2.62), ("2025-08-17", 2.64), ("2025-08-22", 2.68), ("2025-08-26", 2.73),
    ("2025-08-30", 2.70), ("2025-09-04", 2.65), ("2025-09-08", 2.62), ("2025-09-12", 2.64), ("2025-09-16", 2.65),
    ("2025-09-21", 2.64), ("2025-09-25", 2.67), ("2025-09-29", 2.62), ("2025-10-04", 2.59), ("2025-10-08", 2.58),
    ("2025-10-12", 2.53), ("2025-10-16", 2.52), ("2025-10-21", 2.50), ("2025-10-25", 2.52), ("2025-10-29", 2.50),
    ("2025-11-02", 2.50), ("2025-11-07", 2.49), ("2025-11-11", 2.49), ("2025-11-15", 2.47), ("2025-11-20", 2.46),
    ("2025-11-24", 2.44), ("2025-11-29", 2.43), ("2025-12-04", 2.44), ("2025-12-08", 2.43), ("2025-12-12", 2.37),
    ("2025-12-16", 2.34), ("2025-12-20", 2.32), ("2025-12-25", 2.31), ("2025-12-29", 2.35), ("2026-01-02", 2.38),
    ("2026-01-08", 2.41), ("2026-01-14", 2.43), ("2026-01-19", 2.46), ("2026-01-23", 2.47), ("2026-01-27", 2.53),
    ("2026-02-01", 2.50), ("2026-02-06", 2.49), ("2026-02-10", 2.41), ("2026-02-14", 2.38), ("2026-02-20", 2.37),
    ("2026-02-22", 2.40), ("2026-02-27", 2.41), ("2026-03-03", 2.49), ("2026-03-08", 2.52), ("2026-03-12", 2.50),
    ("2026-03-16", 2.61), ("2026-03-20", 2.55), ("2026-03-25", 2.50), ("2026-03-29", 2.56), ("2026-04-02", 2.59),
    ("2026-04-06", 2.59), ("2026-04-11", 2.58), ("2026-04-15", 2.59), ("2026-04-19", 2.56), ("2026-04-24", 2.68),
    ("2026-04-28", 2.74), ("2026-05-02", 2.79), ("2026-05-06", 2.71), ("2026-05-11", 2.74), ("2026-05-15", 2.76),
    ("2026-05-19", 2.71), ("2026-05-23", 2.64), ("2026-05-28", 2.62), ("2026-06-01", 2.64), ("2026-06-05", 2.59),
    ("2026-06-10", 2.55), ("2026-06-12", 2.52),
]

swap_10yr = [
    ("2021-06-14", 2.49), ("2021-06-18", 2.43), ("2021-06-22", 2.49), ("2021-06-28", 2.49), ("2021-07-03", 2.49),
    ("2021-07-08", 2.44), ("2021-07-12", 2.47), ("2021-07-16", 2.41), ("2021-07-20", 2.52), ("2021-07-26", 2.58),
    ("2021-07-31", 2.56), ("2021-08-04", 2.53), ("2021-08-08", 2.58), ("2021-08-12", 2.56), ("2021-08-16", 2.52),
    ("2021-08-20", 2.47), ("2021-08-25", 2.53), ("2021-08-29", 2.58), ("2021-09-02", 2.53), ("2021-09-06", 2.56),
    ("2021-09-11", 2.59), ("2021-09-15", 2.55), ("2021-09-20", 2.56), ("2021-09-23", 2.52), ("2021-09-27", 2.56),
    ("2021-10-01", 2.59), ("2021-10-05", 2.62), ("2021-10-10", 2.74), ("2021-10-14", 2.76), ("2021-10-18", 2.77),
    ("2021-10-21", 2.87), ("2021-10-25", 2.90), ("2021-10-30", 2.80), ("2021-11-02", 2.74), ("2021-11-06", 2.87),
    ("2021-11-10", 2.93), ("2021-11-14", 2.97), ("2021-11-19", 2.90), ("2021-11-23", 2.80), ("2021-11-27", 2.77),
    ("2021-12-01", 2.68), ("2021-12-06", 2.76), ("2021-12-10", 2.68), ("2021-12-14", 2.62), ("2021-12-19", 2.65),
    ("2021-12-23", 2.73), ("2021-12-27", 2.76), ("2021-12-31", 2.79), ("2022-01-04", 2.74), ("2022-01-09", 2.65),
    ("2022-01-13", 2.71), ("2022-01-17", 2.62), ("2022-01-21", 2.65), ("2022-01-26", 2.68), ("2022-01-30", 2.70),
    ("2022-02-03", 2.61), ("2022-02-07", 2.64), ("2022-02-11", 2.68), ("2022-02-16", 2.71), ("2022-02-20", 2.65),
    ("2022-02-24", 2.84), ("2022-03-01", 2.97), ("2022-03-04", 3.02), ("2022-03-08", 3.12), ("2022-03-13", 3.05),
    ("2022-03-17", 3.15), ("2022-03-21", 3.11), ("2022-03-25", 3.15), ("2022-03-29", 3.05), ("2022-04-03", 3.02),
    ("2022-04-07", 3.11), ("2022-04-12", 3.03), ("2022-04-16", 3.12), ("2022-04-20", 3.21), ("2022-04-25", 3.11),
    ("2022-04-29", 3.18), ("2022-05-04", 3.09), ("2022-05-07", 3.12), ("2022-05-11", 2.96), ("2022-05-14", 2.90),
    ("2022-05-18", 2.96), ("2022-05-23", 2.87), ("2022-05-27", 2.96), ("2022-05-31", 3.00), ("2022-06-04", 3.05),
    ("2022-06-09", 3.08), ("2022-06-13", 3.06), ("2022-06-16", 2.96), ("2022-06-18", 2.90), ("2022-06-22", 2.85),
    ("2022-06-25", 2.76), ("2022-06-30", 2.68), ("2022-07-04", 2.64), ("2022-07-08", 2.68), ("2022-07-12", 2.64),
    ("2022-07-16", 2.68), ("2022-07-19", 2.64), ("2022-07-23", 2.70), ("2022-07-29", 2.82), ("2022-08-02", 2.76),
    ("2022-08-07", 2.74), ("2022-08-11", 2.73), ("2022-08-15", 2.68), ("2022-08-21", 2.82), ("2022-08-25", 2.83),
    ("2022-08-28", 2.74), ("2022-09-03", 2.71), ("2022-09-07", 2.65), ("2022-09-11", 2.68), ("2022-09-15", 2.65),
    ("2022-09-20", 2.59), ("2022-09-24", 2.52), ("2022-09-28", 2.41), ("2022-10-01", 2.44), ("2022-10-05", 2.52),
    ("2022-10-10", 2.58), ("2022-10-14", 2.65), ("2022-10-18", 2.74), ("2022-10-22", 2.80), ("2022-10-27", 2.74),
    ("2022-10-31", 2.77), ("2022-11-04", 2.74), ("2022-11-09", 2.76), ("2022-11-13", 2.65), ("2022-11-17", 2.59),
    ("2022-11-21", 2.56), ("2022-11-26", 2.61), ("2022-11-30", 2.62), ("2022-12-04", 2.59), ("2022-12-08", 2.55),
    ("2022-12-13", 2.52), ("2022-12-17", 2.47), ("2022-12-21", 2.50), ("2022-12-25", 2.53), ("2022-12-30", 2.50),
    ("2023-01-03", 2.47), ("2023-01-07", 2.44), ("2023-01-11", 2.41), ("2023-01-15", 2.40), ("2023-01-20", 2.46),
    ("2023-01-24", 2.50), ("2023-01-28", 2.49), ("2023-02-01", 2.44), ("2023-02-06", 2.49), ("2023-02-10", 2.53),
    ("2023-02-14", 2.56), ("2023-02-18", 2.58), ("2023-02-23", 2.59), ("2023-02-27", 2.62), ("2023-03-03", 2.68),
    ("2023-03-07", 2.62), ("2023-03-10", 2.50), ("2023-03-15", 2.49), ("2023-03-19", 2.52), ("2023-03-23", 2.49),
    ("2023-03-27", 2.56), ("2023-04-01", 2.59), ("2023-04-05", 2.55), ("2023-04-09", 2.55), ("2023-04-14", 2.53),
    ("2023-04-18", 2.52), ("2023-04-22", 2.50), ("2023-04-27", 2.50), ("2023-05-01", 2.49), ("2023-05-05", 2.47),
    ("2023-05-09", 2.50), ("2023-05-14", 2.47), ("2023-05-18", 2.50), ("2023-05-22", 2.53), ("2023-05-26", 2.50),
    ("2023-05-31", 2.52), ("2023-06-04", 2.53), ("2023-06-08", 2.52), ("2023-06-13", 2.53), ("2023-06-17", 2.53),
    ("2023-06-21", 2.55), ("2023-06-27", 2.55), ("2023-07-01", 2.56), ("2023-07-05", 2.59), ("2023-07-10", 2.56),
    ("2023-07-14", 2.55), ("2023-07-18", 2.58), ("2023-07-22", 2.62), ("2023-07-28", 2.65), ("2023-08-03", 2.67),
    ("2023-08-08", 2.64), ("2023-08-14", 2.62), ("2023-08-20", 2.62), ("2023-08-25", 2.61), ("2023-08-31", 2.58),
    ("2023-09-06", 2.61), ("2023-09-11", 2.64), ("2023-09-17", 2.65), ("2023-09-23", 2.64), ("2023-09-28", 2.62),
    ("2023-10-03", 2.61), ("2023-10-07", 2.59), ("2023-10-11", 2.64), ("2023-10-16", 2.71), ("2023-10-20", 2.70),
    ("2023-10-24", 2.68), ("2023-10-27", 2.67), ("2023-11-01", 2.65), ("2023-11-07", 2.61), ("2023-11-13", 2.58),
    ("2023-11-19", 2.55), ("2023-11-24", 2.52), ("2023-11-30", 2.47), ("2023-12-04", 2.44), ("2023-12-08", 2.41),
    ("2023-12-13", 2.46), ("2023-12-18", 2.43), ("2023-12-24", 2.41), ("2023-12-29", 2.43), ("2024-01-04", 2.46),
    ("2024-01-10", 2.47), ("2024-01-14", 2.52), ("2024-01-20", 2.50), ("2024-01-25", 2.50), ("2024-02-01", 2.47),
    ("2024-02-06", 2.49), ("2024-02-12", 2.52), ("2024-02-18", 2.52), ("2024-02-24", 2.53), ("2024-03-01", 2.53),
    ("2024-03-06", 2.52), ("2024-03-12", 2.52), ("2024-03-17", 2.53), ("2024-03-23", 2.56), ("2024-03-29", 2.58),
    ("2024-04-04", 2.59), ("2024-04-09", 2.61), ("2024-04-15", 2.62), ("2024-04-21", 2.62), ("2024-04-26", 2.64),
    ("2024-05-02", 2.59), ("2024-05-08", 2.58), ("2024-05-13", 2.58), ("2024-05-19", 2.58), ("2024-05-25", 2.58),
    ("2024-05-29", 2.61), ("2024-06-02", 2.56), ("2024-06-08", 2.53), ("2024-06-14", 2.50), ("2024-06-19", 2.52),
    ("2024-06-25", 2.55), ("2024-06-29", 2.58), ("2024-07-04", 2.55), ("2024-07-09", 2.53), ("2024-07-15", 2.52),
    ("2024-07-21", 2.50), ("2024-07-26", 2.47), ("2024-08-01", 2.31), ("2024-08-07", 2.35), ("2024-08-13", 2.34),
    ("2024-08-19", 2.31), ("2024-08-24", 2.35), ("2024-08-30", 2.37), ("2024-09-04", 2.29), ("2024-09-08", 2.28),
    ("2024-09-13", 2.31), ("2024-09-18", 2.35), ("2024-09-24", 2.38), ("2024-09-30", 2.41), ("2024-10-05", 2.47),
    ("2024-10-11", 2.53), ("2024-10-17", 2.50), ("2024-10-22", 2.50), ("2024-10-28", 2.52), ("2024-11-03", 2.55),
    ("2024-11-07", 2.59), ("2024-11-11", 2.58), ("2024-11-17", 2.55), ("2024-11-23", 2.53), ("2024-11-29", 2.50),
    ("2024-12-05", 2.47), ("2024-12-10", 2.48), ("2024-12-16", 2.43), ("2024-12-21", 2.47), ("2024-12-27", 2.46),
    ("2025-01-01", 2.47), ("2025-01-07", 2.53), ("2025-01-11", 2.59), ("2025-01-16", 2.58), ("2025-01-21", 2.56),
    ("2025-01-27", 2.55), ("2025-01-31", 2.59), ("2025-02-05", 2.59), ("2025-02-10", 2.62), ("2025-02-15", 2.59),
    ("2025-02-19", 2.61), ("2025-02-23", 2.56), ("2025-02-28", 2.49), ("2025-03-04", 2.46), ("2025-03-08", 2.43),
    ("2025-03-12", 2.43), ("2025-03-17", 2.46), ("2025-03-21", 2.47), ("2025-03-25", 2.50), ("2025-03-30", 2.52),
    ("2025-04-01", 2.44), ("2025-04-04", 2.34), ("2025-04-07", 2.37), ("2025-04-11", 2.32), ("2025-04-15", 2.35),
    ("2025-04-20", 2.40), ("2025-04-24", 2.44), ("2025-04-28", 2.46), ("2025-05-03", 2.47), ("2025-05-07", 2.50),
    ("2025-05-11", 2.53), ("2025-05-16", 2.55), ("2025-05-20", 2.53), ("2025-05-24", 2.55), ("2025-05-30", 2.53),
    ("2025-06-04", 2.52), ("2025-06-10", 2.50), ("2025-06-16", 2.49), ("2025-06-21", 2.50), ("2025-06-27", 2.50),
    ("2025-07-02", 2.53), ("2025-07-06", 2.56), ("2025-07-10", 2.59), ("2025-07-15", 2.62), ("2025-07-19", 2.61),
    ("2025-07-23", 2.61), ("2025-07-27", 2.59), ("2025-07-31", 2.53), ("2025-08-05", 2.58), ("2025-08-09", 2.58),
    ("2025-08-15", 2.56), ("2025-08-20", 2.58), ("2025-08-26", 2.61), ("2025-08-30", 2.59), ("2025-09-05", 2.56),
    ("2025-09-11", 2.56), ("2025-09-16", 2.58), ("2025-09-22", 2.56), ("2025-09-28", 2.56), ("2025-10-04", 2.55),
    ("2025-10-09", 2.52), ("2025-10-15", 2.50), ("2025-10-21", 2.49), ("2025-10-26", 2.49), ("2025-11-01", 2.49),
    ("2025-11-07", 2.47), ("2025-11-12", 2.47), ("2025-11-18", 2.46), ("2025-11-24", 2.43), ("2025-11-29", 2.43),
    ("2025-12-05", 2.44), ("2025-12-10", 2.41), ("2025-12-16", 2.40), ("2025-12-22", 2.38), ("2025-12-27", 2.38),
    ("2026-01-02", 2.41), ("2026-01-08", 2.43), ("2026-01-14", 2.44), ("2026-01-19", 2.46), ("2026-01-25", 2.47),
    ("2026-01-31", 2.49), ("2026-02-05", 2.47), ("2026-02-10", 2.43), ("2026-02-16", 2.41), ("2026-02-22", 2.41),
    ("2026-02-26", 2.41), ("2026-03-03", 2.46), ("2026-03-08", 2.47), ("2026-03-12", 2.46), ("2026-03-16", 2.50),
    ("2026-03-20", 2.46), ("2026-03-25", 2.43), ("2026-03-29", 2.46), ("2026-04-02", 2.50), ("2026-04-06", 2.47),
    ("2026-04-11", 2.49), ("2026-04-15", 2.50), ("2026-04-19", 2.49), ("2026-04-24", 2.55), ("2026-04-28", 2.61),
    ("2026-05-02", 2.59), ("2026-05-06", 2.56), ("2026-05-11", 2.59), ("2026-05-15", 2.61), ("2026-05-19", 2.59),
    ("2026-05-23", 2.53), ("2026-05-28", 2.53), ("2026-06-01", 2.52), ("2026-06-05", 2.52), ("2026-06-10", 2.49),
    ("2026-06-12", 2.46),
]

swap_30yr = [
    ("2021-06-14", 2.46), ("2021-06-18", 2.38), ("2021-06-22", 2.43), ("2021-06-28", 2.41), ("2021-07-03", 2.40),
    ("2021-07-08", 2.32), ("2021-07-11", 2.37), ("2021-07-15", 2.34), ("2021-07-19", 2.31), ("2021-07-23", 2.37),
    ("2021-07-28", 2.40), ("2021-08-02", 2.41), ("2021-08-06", 2.40), ("2021-08-11", 2.46), ("2021-08-15", 2.43),
    ("2021-08-19", 2.38), ("2021-08-23", 2.37), ("2021-08-27", 2.44), ("2021-09-01", 2.41), ("2021-09-05", 2.41),
    ("2021-09-09", 2.46), ("2021-09-14", 2.43), ("2021-09-18", 2.43), ("2021-09-23", 2.40), ("2021-09-27", 2.43),
    ("2021-10-01", 2.46), ("2021-10-05", 2.49), ("2021-10-08", 2.56), ("2021-10-12", 2.58), ("2021-10-17", 2.59),
    ("2021-10-21", 2.62), ("2021-10-27", 2.62), ("2021-10-30", 2.47), ("2021-11-03", 2.49), ("2021-11-07", 2.59),
    ("2021-11-12", 2.65), ("2021-11-15", 2.68), ("2021-11-20", 2.61), ("2021-11-24", 2.53), ("2021-11-28", 2.49),
    ("2021-12-03", 2.47), ("2021-12-07", 2.50), ("2021-12-11", 2.44), ("2021-12-16", 2.41), ("2021-12-20", 2.47),
    ("2021-12-24", 2.50), ("2021-12-29", 2.53), ("2022-01-02", 2.55), ("2022-01-06", 2.46), ("2022-01-10", 2.47),
    ("2022-01-15", 2.43), ("2022-01-19", 2.43), ("2022-01-23", 2.44), ("2022-01-27", 2.44), ("2022-02-01", 2.38),
    ("2022-02-05", 2.40), ("2022-02-09", 2.38), ("2022-02-13", 2.40), ("2022-02-19", 2.35), ("2022-02-21", 2.43),
    ("2022-02-26", 2.50), ("2022-03-02", 2.64), ("2022-03-06", 2.71), ("2022-03-10", 2.79), ("2022-03-14", 2.71),
    ("2022-03-18", 2.74), ("2022-03-22", 2.70), ("2022-03-27", 2.71), ("2022-04-01", 2.67), ("2022-04-05", 2.68),
    ("2022-04-09", 2.71), ("2022-04-13", 2.77), ("2022-04-17", 2.79), ("2022-04-20", 2.85), ("2022-04-25", 2.77),
    ("2022-04-29", 2.74), ("2022-05-03", 2.77), ("2022-05-08", 2.71), ("2022-05-12", 2.65), ("2022-05-15", 2.71),
    ("2022-05-19", 2.59), ("2022-05-24", 2.62), ("2022-05-28", 2.67), ("2022-06-01", 2.74), ("2022-06-06", 2.77),
    ("2022-06-10", 2.76), ("2022-06-14", 2.71), ("2022-06-18", 2.65), ("2022-06-23", 2.61), ("2022-06-27", 2.58),
    ("2022-06-30", 2.43), ("2022-07-04", 2.41), ("2022-07-08", 2.40), ("2022-07-12", 2.43), ("2022-07-16", 2.46),
    ("2022-07-19", 2.40), ("2022-07-23", 2.46), ("2022-07-28", 2.52), ("2022-07-31", 2.53), ("2022-08-04", 2.47),
    ("2022-08-08", 2.43), ("2022-08-12", 2.44), ("2022-08-17", 2.44), ("2022-08-20", 2.56), ("2022-08-24", 2.55),
    ("2022-08-28", 2.50), ("2022-09-04", 2.50), ("2022-09-08", 2.47), ("2022-09-13", 2.47), ("2022-09-17", 2.43),
    ("2022-09-21", 2.40), ("2022-09-26", 2.35), ("2022-09-29", 2.23), ("2022-10-03", 2.25), ("2022-10-07", 2.31),
    ("2022-10-11", 2.37), ("2022-10-15", 2.46), ("2022-10-20", 2.53), ("2022-10-23", 2.65), ("2022-10-27", 2.56),
    ("2022-10-31", 2.61), ("2022-11-03", 2.53), ("2022-11-07", 2.61), ("2022-11-11", 2.56), ("2022-11-16", 2.47),
    ("2022-11-20", 2.46), ("2022-11-24", 2.49), ("2022-11-29", 2.44), ("2022-12-03", 2.50), ("2022-12-07", 2.44),
    ("2022-12-11", 2.43), ("2022-12-15", 2.35), ("2022-12-20", 2.40), ("2022-12-24", 2.44), ("2022-12-28", 2.43),
    ("2023-01-02", 2.41), ("2023-01-06", 2.38), ("2023-01-10", 2.38), ("2023-01-14", 2.35), ("2023-01-18", 2.41),
    ("2023-01-23", 2.44), ("2023-01-27", 2.43), ("2023-02-01", 2.38), ("2023-02-05", 2.41), ("2023-02-09", 2.44),
    ("2023-02-13", 2.46), ("2023-02-17", 2.47), ("2023-02-22", 2.49), ("2023-02-26", 2.50), ("2023-03-02", 2.50),
    ("2023-03-06", 2.46), ("2023-03-10", 2.37), ("2023-03-15", 2.35), ("2023-03-17", 2.29), ("2023-03-22", 2.37),
    ("2023-03-26", 2.40), ("2023-03-31", 2.43), ("2023-04-04", 2.38), ("2023-04-08", 2.41), ("2023-04-12", 2.44),
    ("2023-04-17", 2.46), ("2023-04-21", 2.43), ("2023-04-25", 2.40), ("2023-04-29", 2.41), ("2023-05-04", 2.41),
    ("2023-05-08", 2.44), ("2023-05-12", 2.43), ("2023-05-17", 2.46), ("2023-05-21", 2.47), ("2023-05-25", 2.47),
    ("2023-05-30", 2.46), ("2023-06-03", 2.44), ("2023-06-07", 2.44), ("2023-06-13", 2.44), ("2023-06-18", 2.44),
    ("2023-06-24", 2.46), ("2023-06-30", 2.46), ("2023-07-05", 2.50), ("2023-07-11", 2.52), ("2023-07-17", 2.53),
    ("2023-07-22", 2.56), ("2023-07-28", 2.59), ("2023-08-03", 2.62), ("2023-08-08", 2.61), ("2023-08-14", 2.59),
    ("2023-08-20", 2.59), ("2023-08-25", 2.58), ("2023-08-31", 2.53), ("2023-09-06", 2.59), ("2023-09-11", 2.62),
    ("2023-09-17", 2.62), ("2023-09-23", 2.61), ("2023-09-28", 2.61), ("2023-10-03", 2.59), ("2023-10-07", 2.59),
    ("2023-10-11", 2.61), ("2023-10-16", 2.71), ("2023-10-20", 2.72), ("2023-10-24", 2.71), ("2023-10-27", 2.71),
    ("2023-11-01", 2.70), ("2023-11-05", 2.68), ("2023-11-11", 2.62), ("2023-11-17", 2.59), ("2023-11-23", 2.58),
    ("2023-11-28", 2.53), ("2023-12-04", 2.49), ("2023-12-10", 2.47), ("2023-12-15", 2.46), ("2023-12-21", 2.44),
    ("2023-12-27", 2.43), ("2024-01-01", 2.44), ("2024-01-07", 2.47), ("2024-01-11", 2.50), ("2024-01-17", 2.55),
    ("2024-01-23", 2.52), ("2024-01-29", 2.50), ("2024-02-02", 2.47), ("2024-02-08", 2.49), ("2024-02-13", 2.50),
    ("2024-02-19", 2.50), ("2024-02-25", 2.52), ("2024-03-02", 2.50), ("2024-03-07", 2.47), ("2024-03-13", 2.49),
    ("2024-03-19", 2.49), ("2024-03-24", 2.50), ("2024-03-30", 2.53), ("2024-04-04", 2.55), ("2024-04-10", 2.56),
    ("2024-04-16", 2.58), ("2024-04-22", 2.56), ("2024-04-26", 2.59), ("2024-05-02", 2.56), ("2024-05-08", 2.55),
    ("2024-05-13", 2.55), ("2024-05-19", 2.53), ("2024-05-25", 2.53), ("2024-05-31", 2.53), ("2024-06-05", 2.52),
    ("2024-06-11", 2.50), ("2024-06-17", 2.47), ("2024-06-22", 2.49), ("2024-06-28", 2.52), ("2024-07-04", 2.50),
    ("2024-07-09", 2.50), ("2024-07-15", 2.49), ("2024-07-21", 2.49), ("2024-07-26", 2.47), ("2024-08-01", 2.35),
    ("2024-08-07", 2.35), ("2024-08-13", 2.34), ("2024-08-19", 2.32), ("2024-08-24", 2.37), ("2024-08-30", 2.38),
    ("2024-09-04", 2.29), ("2024-09-08", 2.28), ("2024-09-13", 2.31), ("2024-09-18", 2.34), ("2024-09-24", 2.37),
    ("2024-09-30", 2.40), ("2024-10-05", 2.46), ("2024-10-11", 2.50), ("2024-10-17", 2.49), ("2024-10-22", 2.47),
    ("2024-10-28", 2.47), ("2024-11-03", 2.47), ("2024-11-07", 2.50), ("2024-11-11", 2.47), ("2024-11-17", 2.44),
    ("2024-11-23", 2.43), ("2024-11-29", 2.40), ("2024-12-05", 2.35), ("2024-12-10", 2.36), ("2024-12-16", 2.38),
    ("2024-12-22", 2.40), ("2024-12-26", 2.42), ("2025-01-04", 2.44), ("2025-01-10", 2.50), ("2025-01-14", 2.49),
    ("2025-01-20", 2.49), ("2025-01-26", 2.47), ("2025-01-31", 2.49), ("2025-02-06", 2.49), ("2025-02-12", 2.50),
    ("2025-02-17", 2.49), ("2025-02-23", 2.41), ("2025-03-01", 2.37), ("2025-03-06", 2.35), ("2025-03-12", 2.35),
    ("2025-03-18", 2.37), ("2025-03-24", 2.38), ("2025-03-30", 2.38), ("2025-04-01", 2.32), ("2025-04-04", 2.25),
    ("2025-04-09", 2.29), ("2025-04-13", 2.25), ("2025-04-17", 2.28), ("2025-04-21", 2.32), ("2025-04-25", 2.34),
    ("2025-05-01", 2.35), ("2025-05-07", 2.38), ("2025-05-13", 2.43), ("2025-05-18", 2.43), ("2025-05-24", 2.41),
    ("2025-05-30", 2.40), ("2025-06-04", 2.40), ("2025-06-10", 2.38), ("2025-06-16", 2.41), ("2025-06-21", 2.43),
    ("2025-06-27", 2.43), ("2025-07-03", 2.46), ("2025-07-08", 2.49), ("2025-07-15", 2.50), ("2025-07-19", 2.52),
    ("2025-07-23", 2.50), ("2025-07-27", 2.49), ("2025-07-31", 2.41), ("2025-08-05", 2.46), ("2025-08-10", 2.46),
    ("2025-08-16", 2.44), ("2025-08-22", 2.46), ("2025-08-27", 2.47), ("2025-09-02", 2.47), ("2025-09-08", 2.44),
    ("2025-09-13", 2.46), ("2025-09-19", 2.47), ("2025-09-25", 2.46), ("2025-10-01", 2.46), ("2025-10-06", 2.44),
    ("2025-10-12", 2.44), ("2025-10-17", 2.43), ("2025-10-23", 2.43), ("2025-10-29", 2.44), ("2025-11-04", 2.44),
    ("2025-11-09", 2.43), ("2025-11-15", 2.43), ("2025-11-21", 2.41), ("2025-11-26", 2.40), ("2025-12-02", 2.41),
    ("2025-12-08", 2.43), ("2025-12-13", 2.44), ("2025-12-19", 2.44), ("2025-12-25", 2.43), ("2025-12-30", 2.41),
    ("2026-01-05", 2.43), ("2026-01-10", 2.43), ("2026-01-16", 2.44), ("2026-01-22", 2.46), ("2026-01-27", 2.47),
    ("2026-02-02", 2.47), ("2026-02-08", 2.46), ("2026-02-13", 2.43), ("2026-02-19", 2.41), ("2026-02-25", 2.40),
    ("2026-03-03", 2.41), ("2026-03-09", 2.40), ("2026-03-14", 2.38), ("2026-03-20", 2.35), ("2026-03-26", 2.32),
    ("2026-03-30", 2.34), ("2026-04-03", 2.38), ("2026-04-09", 2.38), ("2026-04-15", 2.40), ("2026-04-21", 2.41),
    ("2026-04-26", 2.43), ("2026-05-02", 2.43), ("2026-05-08", 2.44), ("2026-05-14", 2.44), ("2026-05-19", 2.47),
    ("2026-05-25", 2.43), ("2026-05-31", 2.41), ("2026-06-05", 2.40), ("2026-06-12", 2.38),
]

series_labels = ["1yr", "2yr", "5yr", "10yr", "30yr"]
series_colors = ["#1f3864", "#9bbfe4", "#eaa93f", "#d9587a", "#66ae79"]
year_ticks = ["2022", "2023", "2024", "2025", "2026"]
rate_ticks = [1.5, 2.0, 2.5, 3.0, 3.5, 4.0, 4.5, 5.0, 5.5, 6.0]

# ==============================
# STYLE
# ==============================
plt.rcParams["font.family"] = ["Open Sans", "DejaVu Sans"]
TEXT = "#1a1a1a"
FRAME = "#cfcfcf"


def to_series(pairs):
    s = pd.Series([v for _, v in pairs], index=pd.to_datetime([d for d, _ in pairs]))
    return s.sort_index()


fig = plt.figure(figsize=(22.84, 12.66), dpi=100)
ax = fig.add_axes([0.0197, 0.0608, 0.9422, 0.8302])

all_series = [swap_1yr, swap_2yr, swap_5yr, swap_10yr, swap_30yr]
for pairs, label, color in zip(all_series, series_labels, series_colors):
    s = to_series(pairs)
    ax.plot(s.index, s.values, color=color, lw=3.8, label=label,
            solid_joinstyle="miter", solid_capstyle="butt")
    # dot on the latest value
    ax.plot(s.index[-1:], s.values[-1:], "o", color=color, ms=11, zorder=5)

# ==============================
# AXES
# ==============================
ax.set_xlim(pd.Timestamp("2021-06-13"), pd.Timestamp("2026-06-23"))
ax.set_ylim(1.5, 6.25)

ax.set_xticks(pd.to_datetime([y + "-01-01" for y in year_ticks]))
ax.xaxis.set_major_formatter(mdates.DateFormatter("%Y"))
ax.set_yticks(rate_ticks)
ax.yaxis.set_major_formatter(FuncFormatter(lambda v, _: f"{v:.1f}%"))

ax.yaxis.tick_right()
ax.tick_params(axis="both", length=0, labelsize=20, colors=TEXT)
ax.tick_params(axis="x", pad=15)
ax.tick_params(axis="y", pad=7)

for sp in ax.spines.values():
    sp.set_color(FRAME)
    sp.set_linewidth(1.6)

# ==============================
# TITLE + LEGEND
# ==============================
fig.text(0.5, 0.974, "USD Inflation Swap Rates", ha="center", va="center",
         fontsize=26, fontweight="bold", color=TEXT)

handles, labels = ax.get_legend_handles_labels()
leg = fig.legend(handles, labels, loc="center", bbox_to_anchor=(0.4905, 0.925), ncol=5,
                 frameon=False, fontsize=22, handlelength=2.5, handletextpad=0.4,
                 columnspacing=1.2)
for line in leg.get_lines():
    line.set_linewidth(4.5)
for t in leg.get_texts():
    t.set_color(TEXT)

fig.savefig("out.png", dpi=100, facecolor="white")
